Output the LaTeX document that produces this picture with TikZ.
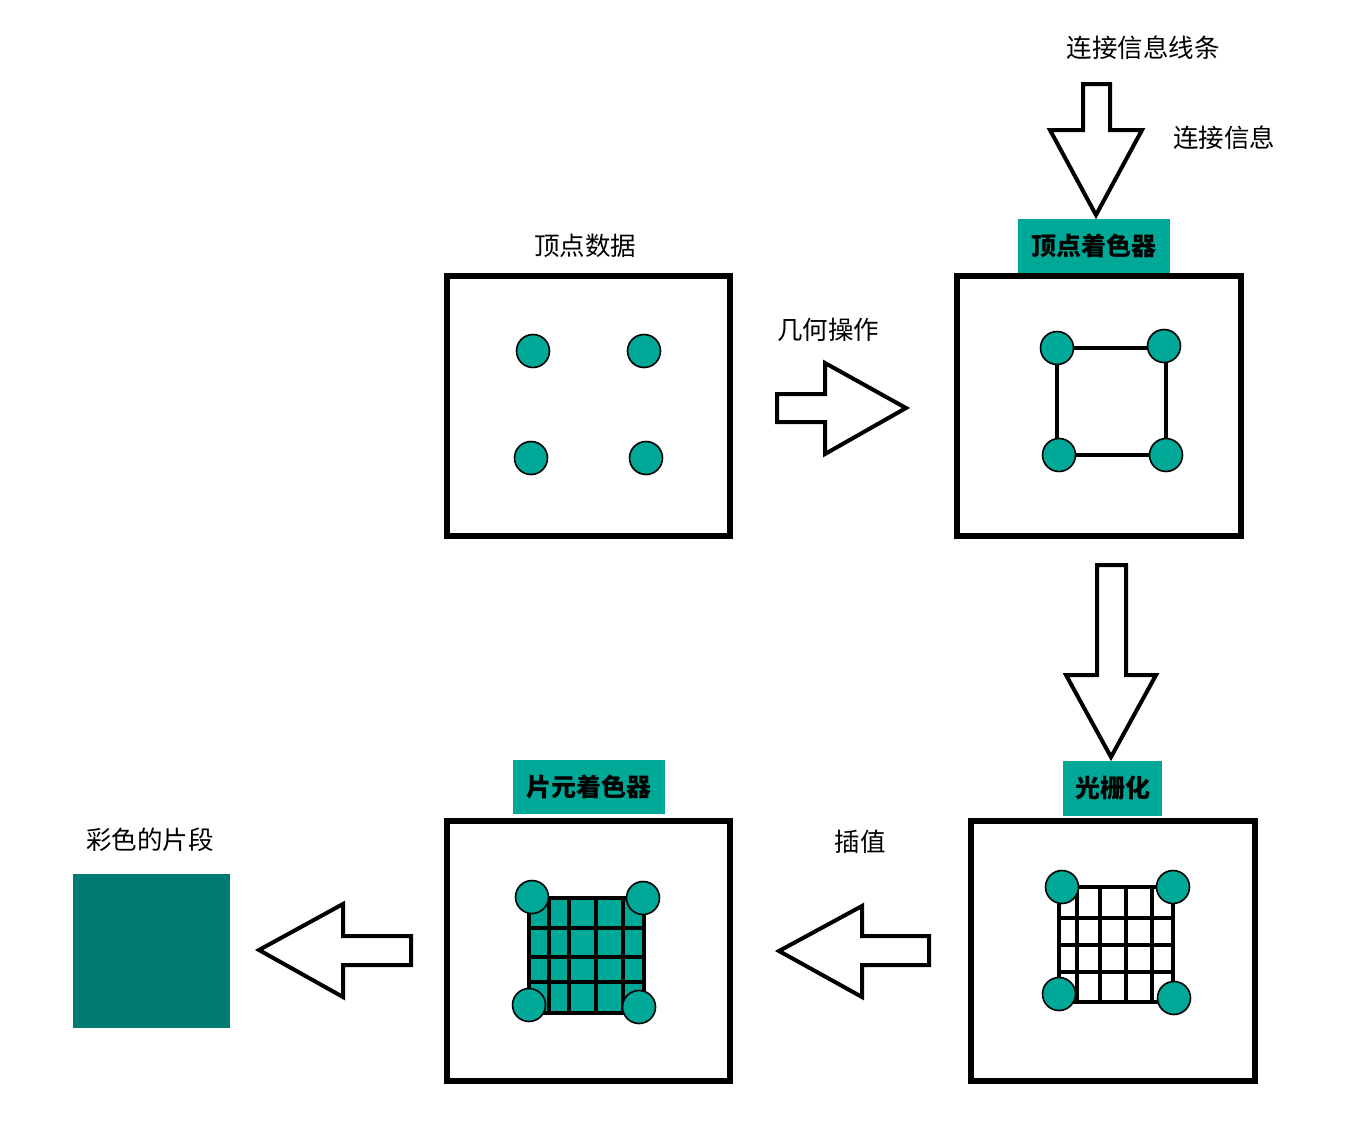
\documentclass[tikz,border=0pt]{standalone}
\usepackage{fontspec}
\newfontfamily\cjk{Noto Sans CJK SC}
\usetikzlibrary{backgrounds}
\definecolor{tealA}{RGB}{0,168,152}
\definecolor{tealB}{RGB}{0,123,116}
\begin{document}
\begin{tikzpicture}[x=1pt,y=-1pt,
  stage/.style={draw,line width=6pt,inner sep=0pt,minimum width=283pt,minimum height=260pt},
  dot/.style={circle,draw,fill=tealA,line width=1.6pt,minimum size=33pt,inner sep=0pt},
  lbl/.style={font=\cjk\fontsize{25.5}{30}\selectfont,inner sep=0pt},
  hdr/.style={fill=tealA,inner sep=0pt,font=\cjk\bfseries\fontsize{25}{30}\selectfont,minimum height=54pt},
  blockarrow/.style={draw,line width=4pt,line join=miter,fill=white},
  edge/.style={line width=4pt},
  gridline/.style={line width=4pt,line cap=square}]
\useasboundingbox (0,0) rectangle (1366,1127);

% texts
\node[lbl] (tLines) at (1143,48) {连接信息线条};
\node[lbl] (tConn) at (1224,138) {连接信息};
\node[lbl] (tData) at (585,246) {顶点数据};
\node[lbl] (tGeom) at (828,330) {几何操作};
\node[lbl] (tInterp) at (860,842) {插值};
\node[lbl] (tColor) at (150,840) {彩色的片段};

% headers
\node[hdr,minimum width=152pt] (hVS) at (1094,246) {顶点着色器};
\node[hdr,minimum width=99pt,minimum height=55pt] (hRas) at (1112.5,788.5) {光栅化};
\node[hdr,minimum width=152pt] (hFS) at (589,787) {片元着色器};

% stage boxes
\node[stage] (b1) at (588.5,406) {};
\node[stage,minimum width=284pt] (b2) at (1099,406) {};
\node[stage,minimum width=284pt] (b3) at (1113,951) {};
\node[stage] (b4) at (588.5,950.5) {};

% final fragment
\node[fill=tealB,inner sep=0pt,minimum width=157pt,minimum height=154pt] (frag) at (151.5,951) {};

% block arrows
\draw[blockarrow] (1083,84) -- (1110,84) -- (1110,130) -- (1142,130) -- (1096,215) -- (1050,130) -- (1083,130) -- cycle;
\draw[blockarrow] (777,394) -- (825,394) -- (825,363) -- (906,408) -- (825,454) -- (825,422) -- (777,422) -- cycle;
\draw[blockarrow] (1097,565) -- (1126,565) -- (1126,675) -- (1156,675) -- (1111,757) -- (1066,675) -- (1097,675) -- cycle;
\draw[blockarrow] (929,936) -- (862,936) -- (862,906) -- (779,951) -- (862,997) -- (862,965) -- (929,965) -- cycle;
\draw[blockarrow] (411,936) -- (343,936) -- (343,904) -- (259,950) -- (343,997) -- (343,965) -- (411,965) -- cycle;

% box 1 dots
\node[dot] (d11) at (533,351) {};
\node[dot] (d12) at (644,351) {};
\node[dot] (d13) at (531,458) {};
\node[dot] (d14) at (646,458) {};

% box 2 dots with edges
\node[dot] (d21) at (1057,348) {};
\node[dot] (d22) at (1164,346) {};
\node[dot] (d23) at (1059,455) {};
\node[dot] (d24) at (1166,455) {};
\begin{scope}[on background layer]
\draw[edge] (d21.center) rectangle (d24.center);
\end{scope}

% box 3 raster grid
\begin{scope}[on background layer]
\foreach \x in {1059,1077,1100,1126,1152,1173} \draw[gridline] (\x,887) -- (\x,1002);
\foreach \y in {887,918,945,972,1002} \draw[gridline] (1059,\y) -- (1173,\y);
\end{scope}
\node[dot] (d31) at (1062,887) {};
\node[dot] (d32) at (1173,887) {};
\node[dot] (d33) at (1059,994) {};
\node[dot] (d34) at (1174,998) {};

% box 4 shaded grid
\begin{scope}[on background layer]
\fill[tealA] (529,898) rectangle (644,1013);
\foreach \x in {529,549,569,596,623,644} \draw[gridline] (\x,898) -- (\x,1013);
\foreach \y in {898,928,957,982,1013} \draw[gridline] (529,\y) -- (644,\y);
\end{scope}
\node[dot] (d41) at (532,897) {};
\node[dot] (d42) at (643,898) {};
\node[dot] (d43) at (529,1005) {};
\node[dot] (d44) at (639,1007) {};
\end{tikzpicture}
\end{document}
